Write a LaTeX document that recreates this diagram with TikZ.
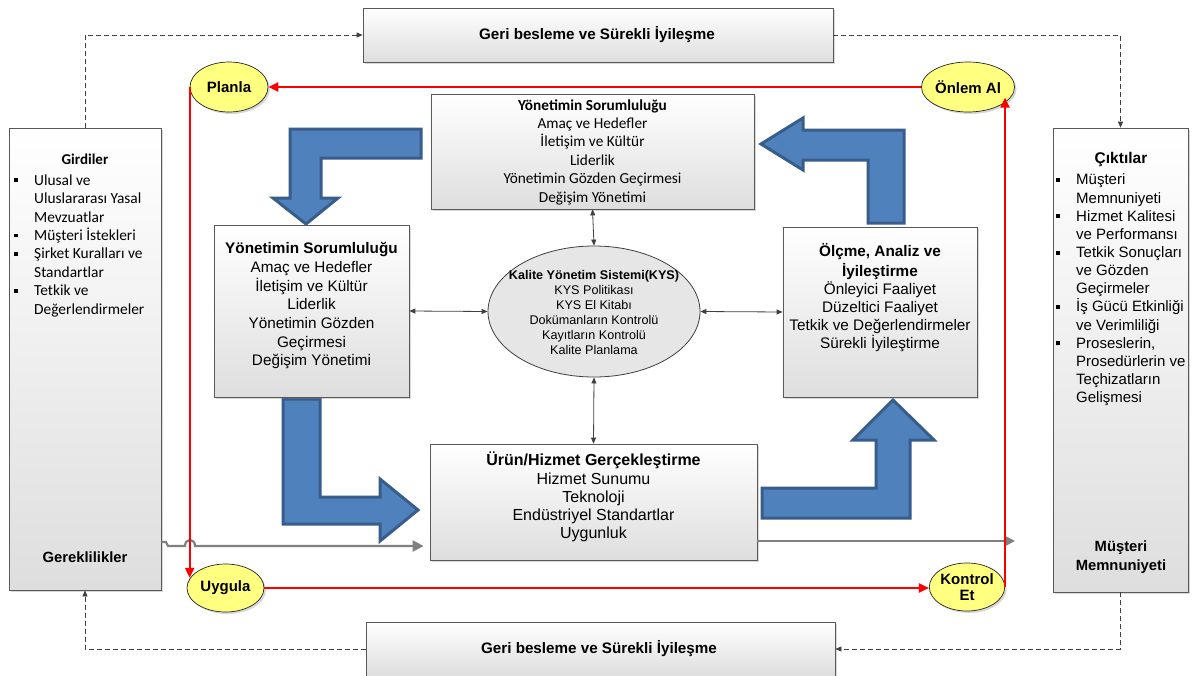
\documentclass[tikz,border=0pt]{standalone}
\usepackage{fontspec}
\setmainfont{Liberation Sans}
\newfontfamily\calibri{Carlito}
\usetikzlibrary{arrows.meta,shapes.geometric,shadows}
\definecolor{blueF}{HTML}{4F81BD}
\definecolor{blueD}{HTML}{385D8A}
\definecolor{yelc}{HTML}{FFFF80}
\definecolor{bord}{HTML}{595959}
\definecolor{ellf}{HTML}{E6E6E6}
\definecolor{garr}{HTML}{808080}
\definecolor{darkg}{HTML}{404040}
\newcommand\bul{\makebox[20pt][l]{\rule[3pt]{3.8pt}{3.8pt}}}
\newcommand\ind{\hspace*{20pt}}
\begin{document}
\begin{tikzpicture}[x=1pt,y=-1pt,
 box/.style={draw=bord, line width=0.7pt, top color=white, bottom color=black!13, inner sep=0pt,
   drop shadow={opacity=0.3,shadow xshift=2pt,shadow yshift=-2pt}},
 txt/.style={align=center, inner sep=0pt, anchor=north},
 yellipse/.style={ellipse, draw=black!85, line width=0.7pt, fill=yelc, inner sep=0pt,
   font=\bfseries\fontsize{15}{16}\selectfont, align=center,
   drop shadow={opacity=0.3,shadow xshift=2pt,shadow yshift=-2pt}},
 barrow/.style={fill=blueF, draw=blueD, line width=3pt, line join=miter},
 redarrow/.style={draw=red, line width=2pt, -{Triangle[length=10pt,width=9pt]}},
 dasharr/.style={draw=darkg, line width=0.7pt, dash pattern=on 5pt off 3pt, -{Triangle[length=6pt,width=5pt]}},
 biarr/.style={draw=darkg, line width=0.8pt, {Triangle[length=6pt,width=5pt]}-{Triangle[length=6pt,width=5pt]}},
 grarr/.style={draw=garr, line width=2.2pt, -{Triangle[length=11pt,width=11pt]}},
]
\fill[white] (0,0) rectangle (1194,675);
\useasboundingbox (0,0) rectangle (1194,675);

% blue bent arrows
\draw[barrow] (421,129) -- (290,129) -- (290,198) -- (273,198) -- (306,224) -- (338,198) -- (321,198) -- (321,158) -- (421,158) -- cycle;
\draw[barrow] (283,399) -- (320,399) -- (320,497) -- (380,497) -- (380,479) -- (418,510) -- (380,541) -- (380,524) -- (283,524) -- cycle;
\draw[barrow] (762,488) -- (876,488) -- (876,440) -- (853,440) -- (893,400) -- (934,440) -- (910,440) -- (910,518) -- (762,518) -- cycle;
\draw[barrow] (868,223) -- (904,223) -- (904,130) -- (803,130) -- (803,118) -- (761,144) -- (803,170) -- (803,160) -- (868,160) -- cycle;

% outer boxes
\node[box, minimum width=470pt, minimum height=54pt] (fbt) at (598,35) {};
\node[font=\bfseries\fontsize{15.2}{17}\selectfont] at (597,34.5) {Geri besleme ve Sürekli İyileşme};
\node[box, minimum width=469pt, minimum height=54pt] (fbb) at (600.5,649) {};
\node[font=\bfseries\fontsize{15.2}{17}\selectfont] at (599,648.5) {Geri besleme ve Sürekli İyileşme};

\node[box, minimum width=152pt, minimum height=462pt] (gir) at (85,359) {};
\node[font=\calibri\bfseries\fontsize{15}{17}\selectfont] (girT) at (85,159) {Girdiler};
\node[anchor=north west, align=left, inner sep=0pt, font=\calibri\fontsize{15.4}{18.4}\selectfont] (girL) at (14,172.2)
 {\bul\strut Ulusal ve\\ \ind Uluslararası Yasal\\ \ind Mevzuatlar\\ \bul Müşteri İstekleri\\ \bul Şirket Kuralları ve\\ \ind Standartlar\\ \bul Tetkik ve\\ \ind Değerlendirmeler};
\node[font=\bfseries\fontsize{14.8}{16}\selectfont] (gerk) at (85,557) {Gereklilikler};

\node[box, minimum width=135pt, minimum height=464pt] (cik) at (1120.5,360) {};
\node[font=\bfseries\fontsize{15.5}{17}\selectfont] (cikT) at (1121,159) {Çıktılar};
\node[anchor=north west, align=left, inner sep=0pt, font=\fontsize{15}{18.15}\selectfont] (cikL) at (1056,172)
 {\bul\strut Müşteri\\ \ind Memnuniyeti\\ \bul Hizmet Kalitesi\\ \ind ve Performansı\\ \bul Tetkik Sonuçları\\ \ind ve Gözden\\ \ind Geçirmeler\\ \bul İş Gücü Etkinliği\\ \ind ve Verimliliği\\ \bul Proseslerin,\\ \ind Prosedürlerin ve\\ \ind Teçhizatların\\ \ind Gelişmesi};
\node[align=center, inner sep=0pt, font=\bfseries\fontsize{14.8}{19}\selectfont] (mm) at (1121,557.5) {Müşteri\\Memnuniyeti};

% dashed feedback loop
\draw[dasharr] (gir.north) |- (fbt.west);
\draw[dasharr] (fbt.east) -| (cik.north);
\draw[dasharr] (cik.south) |- (fbb.east);
\draw[dasharr] (fbb.west) -| (gir.south);

% center boxes
\node[box, minimum width=323pt, minimum height=115pt] (top) at (592.5,151.5) {};
\node[txt, font=\calibri\fontsize{15.3}{18.4}\selectfont] at (592.5,97.1)
 {\strut\textbf{Yönetimin Sorumluluğu}\\ Amaç ve Hedefler\\ İletişim ve Kültür\\ Liderlik\\ Yönetimin Gözden Geçirmesi\\ Değişim Yönetimi};

\node[box, minimum width=195pt, minimum height=172pt] (lft) at (311.5,311) {};
\node[txt, font=\fontsize{15.3}{18.67}\selectfont] at (311.5,240.4)
 {\strut\textbf{Yönetimin Sorumluluğu}\\ Amaç ve Hedefler\\ İletişim ve Kültür\\ Liderlik\\ Yönetimin Gözden\\ Geçirmesi\\ Değişim Yönetimi};

\node[box, minimum width=194pt, minimum height=170pt] (rgt) at (880,312) {};
\node[txt, font=\fontsize{15.3}{18.2}\selectfont] at (880,243.3)
 {\strut\textbf{Ölçme, Analiz ve}\\ \textbf{İyileştirme}\\ Önleyici Faaliyet\\ Düzeltici Faaliyet\\ Tetkik ve Değerlendirmeler\\ Sürekli İyileştirme};

\node[box, minimum width=327pt, minimum height=116pt] (urun) at (593.5,502) {};
\node[txt, font=\fontsize{16}{18.25}\selectfont] at (593.5,452)
 {\strut\textbf{Ürün/Hizmet Gerçekleştirme}\\ Hizmet Sunumu\\ Teknoloji\\ Endüstriyel Standartlar\\ Uygunluk};

\node[ellipse, draw=darkg, line width=0.8pt, fill=ellf, minimum width=212pt, minimum height=131pt, inner sep=0pt] (kys) at (594,311.5) {};
\node[txt, font=\fontsize{12.6}{15}\selectfont] at (594,268.3)
 {\strut\textbf{Kalite Yönetim Sistemi(KYS)}\\ KYS Politikası\\ KYS El Kitabı\\ Dokümanların Kontrolü\\ Kayıtların Kontrolü\\ Kalite Planlama};

\draw[biarr] (kys.north) -- (top.south);
\draw[biarr] (kys.south) -- (urun.north);
\draw[biarr] (kys.west) -- (lft.east);
\draw[biarr] (kys.east) -- (rgt.west);

% gray process arrows
\coordinate (gIn) at (gir.east |- 0,542);
\coordinate (gOut) at (1015,541);
\draw[grarr, shorten >=6pt] (gIn) -- (166,542) -- (168,546) -- (185,546) .. controls (185,538) and (195,538) .. (195,546) -- (urun.west |- 0,546);
\draw[grarr] (urun.east |- 0,541) -- (gOut);

% PDCA nodes
\node[yellipse, minimum width=78pt, minimum height=50pt] (plan) at (229,87) {Planla};
\node[yellipse, minimum width=76pt, minimum height=50pt] (onl) at (968,87) {Önlem Al};
\node[yellipse, minimum width=77pt, minimum height=48pt] (uyg) at (225.5,588) {Uygula};
\node[yellipse, minimum width=74pt, minimum height=48pt] (kon) at (967,587) {Kontrol\\Et};

\draw[redarrow] (onl.west) -- (plan.east);
\draw[redarrow] (plan.west) -- (plan.west |- uyg.164);
\draw[redarrow] (uyg.east) -- (uyg.east -| kon.west);
\draw[redarrow] (kon.east) -- (kon.east |- onl.-14);
\end{tikzpicture}
\end{document}
